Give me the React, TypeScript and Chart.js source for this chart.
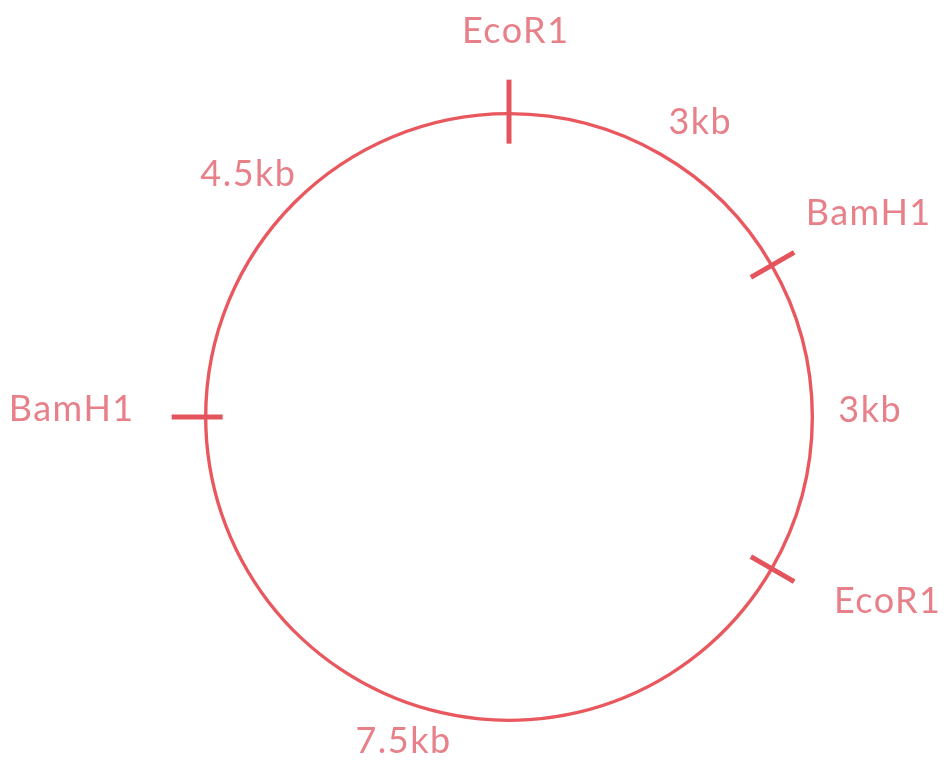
import React, { useEffect, useRef } from "react";
import { Chart, registerables } from "chart.js";

Chart.register(...registerables);

// Fragment lengths (kb), clockwise from the top EcoR1 site
const fragmentLabels = ["3kb", "3kb", "7.5kb", "4.5kb"];
const fragmentSizes = [3, 3, 7.5, 4.5];
// Restriction site at the start of each fragment
const siteLabels = ["EcoR1", "BamH1", "EcoR1", "BamH1"];

// Styling / label placement (distance beyond ring in px, angular nudge in degrees)
const siteLabelGap = [82, 110, 118, 134];
const siteLabelNudge = [1, 0.5, -4, 1];
const fragLabelGap = [48, 58, 38, 53];
const fragLabelNudge = [3, -1, 3, -2];
const tickOuter = [34, 26, 26, 34];
const tickInner = [30, 24, 24, 17];

const RING = "rgb(232, 88, 94)";
const TICK = "rgb(228, 84, 92)";
const TEXT = "rgb(232, 128, 138)";
const FONT = "36px Lato";

const mapPlugin = {
  id: "plasmidMap",
  afterDraw(chart: any) {
    const ctx = chart.ctx;
    const meta = chart.getDatasetMeta(0);
    const deg = Math.PI / 180;
    ctx.save();
    meta.data.forEach((arc: any, i: number) => {
      const p = arc.getProps(["x", "y", "startAngle", "endAngle", "outerRadius", "innerRadius"], true);
      const r = (p.outerRadius + p.innerRadius) / 2;
      const a = p.startAngle;
      const ca = Math.cos(a);
      const sa = Math.sin(a);
      // tick mark at the cut site
      ctx.strokeStyle = TICK;
      ctx.lineWidth = 5;
      ctx.lineCap = "butt";
      ctx.beginPath();
      ctx.moveTo(p.x + (r - tickInner[i]) * ca, p.y + (r - tickInner[i]) * sa);
      ctx.lineTo(p.x + (r + tickOuter[i]) * ca, p.y + (r + tickOuter[i]) * sa);
      ctx.stroke();

      ctx.fillStyle = TEXT;
      ctx.font = FONT;
      (ctx as any).letterSpacing = "1.5px";
      ctx.textAlign = "center";
      ctx.textBaseline = "middle";
      // site label
      const sA = a + siteLabelNudge[i] * deg;
      const R = r + siteLabelGap[i];
      ctx.fillText(siteLabels[i], p.x + R * Math.cos(sA), p.y + R * Math.sin(sA));

      // fragment label at midpoint
      const m = (p.startAngle + p.endAngle) / 2 + fragLabelNudge[i] * deg;
      const Rf = r + fragLabelGap[i];
      ctx.fillText(fragmentLabels[i], p.x + Rf * Math.cos(m), p.y + Rf * Math.sin(m));
    });
    ctx.restore();
  },
};

export default function App() {
  const ref = useRef<HTMLCanvasElement>(null);
  useEffect(() => {
    document.body.style.margin = "0";
    const chart = new Chart(ref.current!, {
      type: "doughnut",
      data: {
        labels: fragmentLabels,
        datasets: [
          {
            data: fragmentSizes,
            backgroundColor: RING,
            borderWidth: 0,
            hoverOffset: 0,
          },
        ],
      },
      options: {
        responsive: false,
        animation: false,
        cutout: "98.9%",
        events: [],
        layout: { padding: { left: 72, right: 0, top: 112, bottom: 39 } },
        plugins: {
          legend: { display: false },
          tooltip: { enabled: false },
        },
      },
      plugins: [mapPlugin],
    });
    return () => chart.destroy();
  }, []);
  return (
    <div style={{ width: 946, height: 761, background: "#fff" }}>
      <canvas ref={ref} width={946} height={761} />
    </div>
  );
}
